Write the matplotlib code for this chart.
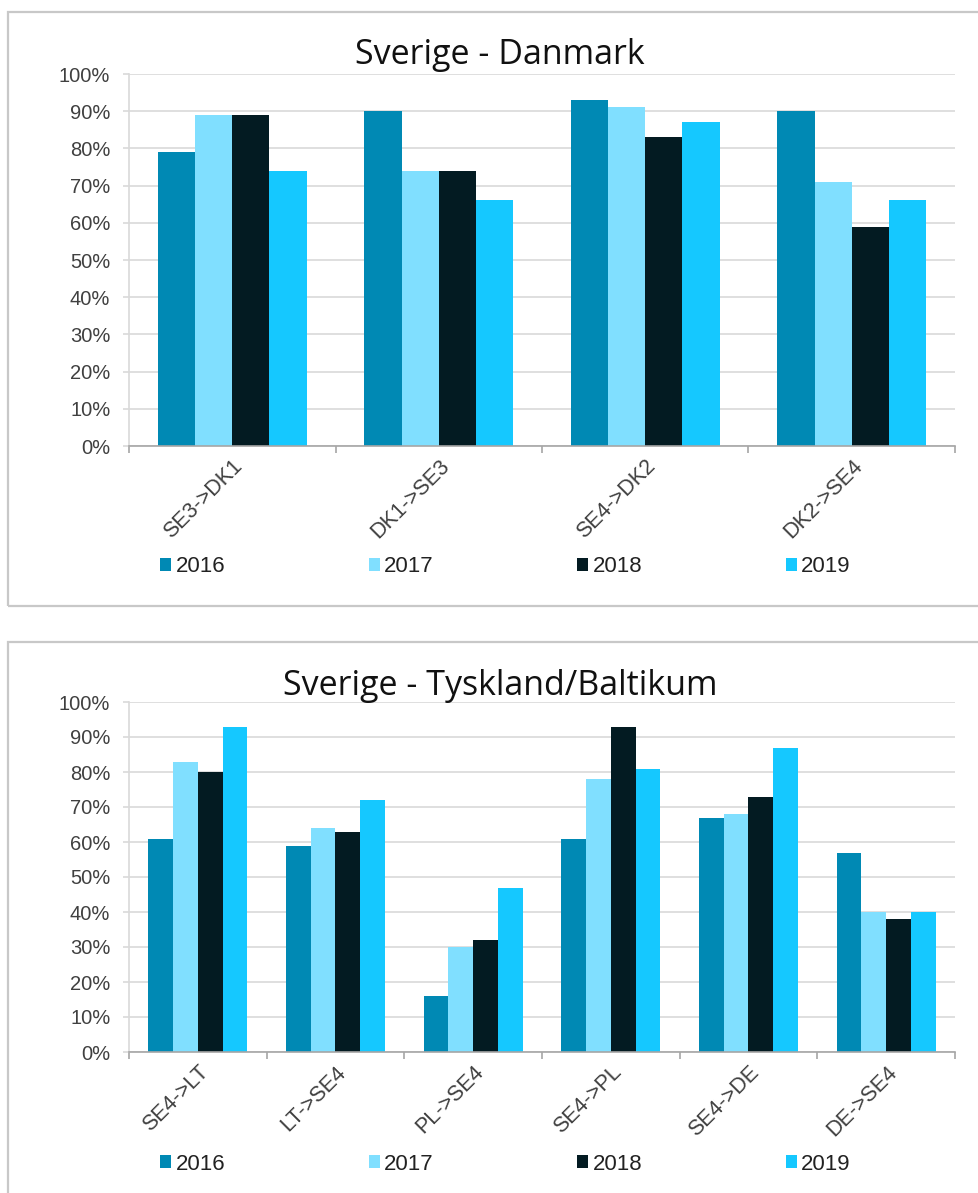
import matplotlib
matplotlib.use("Agg")
import matplotlib.pyplot as plt
from matplotlib.patches import Patch, Rectangle
from matplotlib.ticker import PercentFormatter

# ---------------------------------------------------------------- data
YEARS = ["2016", "2017", "2018", "2019"]
COLORS = ["#0089B4", "#80DFFF", "#031B22", "#15C8FF"]

DK_CATS = ["SE3->DK1", "DK1->SE3", "SE4->DK2", "DK2->SE4"]
DK_2016 = [79, 90, 93, 90]
DK_2017 = [89, 74, 91, 71]
DK_2018 = [89, 74, 83, 59]
DK_2019 = [74, 66, 87, 66]

TB_CATS = ["SE4->LT", "LT->SE4", "PL->SE4", "SE4->PL", "SE4->DE", "DE->SE4"]
TB_2016 = [61, 59, 16, 61, 67, 57]
TB_2017 = [83, 64, 30, 78, 68, 40]
TB_2018 = [80, 63, 32, 93, 73, 38]
TB_2019 = [93, 72, 47, 81, 87, 40]

W, H = 979, 1193
DPI = 100
fig = plt.figure(figsize=(W / DPI, H / DPI), dpi=DPI)
fig.patch.set_facecolor("white")

TICK_FONT = "Liberation Sans"
TITLE_FONT = "Open Sans"
GRID = "#D9D9D9"
AXIS = "#A6A6A6"
TXT = "#404040"


def px_axes(left, top, right, bottom):
    return fig.add_axes([left / W, 1 - bottom / H, (right - left) / W, (bottom - top) / H])


def panel(rect, title, title_y, cats, series, legend_y):
    x0, y0, x1, y1 = rect
    # chart-area border
    fig.patches.append(Rectangle((x0 / W, 1 - y1 / H), (x1 - x0) / W, (y1 - y0) / H,
                                 transform=fig.transFigure, fill=False,
                                 edgecolor="#C8C8C8", linewidth=1.6, zorder=0))
    fig.text(500 / W, 1 - title_y / H, title, ha="center", va="center",
             fontsize=24.5, family=TITLE_FONT, color="#111111")

    ax = px_axes(129, series["top"], 955, series["bottom"])
    n = len(cats)
    bw = 0.18
    for j, (vals, col, yr) in enumerate(zip(series["vals"], COLORS, YEARS)):
        xs = [i + 0.5 + (j - 1.5) * bw for i in range(n)]
        ax.bar(xs, [v / 100 for v in vals], width=bw, color=col, linewidth=0,
               label=yr, zorder=3)

    ax.set_xlim(0, n)
    ax.set_ylim(0, 1)
    ax.set_yticks([k / 10 for k in range(11)])
    ax.yaxis.set_major_formatter(PercentFormatter(1.0, decimals=0))
    ax.grid(axis="y", color=GRID, linewidth=1.2, zorder=0)
    for s in ("top", "right"):
        ax.spines[s].set_visible(False)
    ax.spines["left"].set_color(GRID)
    ax.spines["left"].set_linewidth(1.2)
    ax.spines["bottom"].set_color(AXIS)
    ax.spines["bottom"].set_linewidth(1.2)
    ax.spines["bottom"].set_zorder(4)
    ax.tick_params(axis="y", length=4.5, width=1.2, color=GRID, pad=9,
                   labelsize=14.5, labelcolor=TXT)
    for lab in ax.get_yticklabels():
        lab.set_family(TICK_FONT)

    # category boundaries as ticks, names centred between
    ax.set_xticks(range(n + 1))
    ax.set_xticklabels([])
    ax.tick_params(axis="x", which="major", length=5, width=1.2, color=AXIS)
    ax.set_xticks([i + 0.5 for i in range(n)], minor=True)
    ax.set_xticklabels(cats, minor=True, rotation=45, ha="right",
                       rotation_mode="anchor", fontsize=15.5, color=TXT,
                       family=TICK_FONT)
    ax.tick_params(axis="x", which="minor", length=0, pad=7)

    handles = [Patch(facecolor=c, label=y) for c, y in zip(COLORS, YEARS)]
    fig.legend(handles=handles, loc="center left",
               bbox_to_anchor=(160 / W, 1 - legend_y / H), ncol=4, frameon=False,
               prop={"family": TICK_FONT, "size": 16},
               handlelength=0.5, handleheight=0.5, handletextpad=0.2,
               columnspacing=6.45, borderpad=0, borderaxespad=0,
               labelcolor="#222222")
    return ax


panel((8.5, 12, 990, 606), "Sverige - Danmark", 55, DK_CATS,
      {"top": 74, "bottom": 446, "vals": [DK_2016, DK_2017, DK_2018, DK_2019]}, 567)
panel((8.5, 642, 990, 1210), "Sverige - Tyskland/Baltikum", 686, TB_CATS,
      {"top": 702, "bottom": 1052, "vals": [TB_2016, TB_2017, TB_2018, TB_2019]}, 1164)

fig.savefig("out.png", dpi=DPI)
